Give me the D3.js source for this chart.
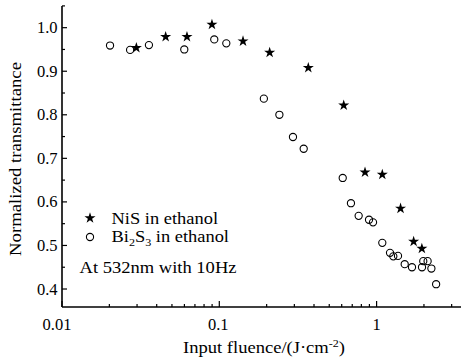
<!DOCTYPE html>
<html><head><meta charset="utf-8">
<script src="https://cdn.jsdelivr.net/npm/d3@7"></script>
<style>body{margin:0;background:#fff}svg{display:block}</style>
</head><body>
<svg id="c" width="461" height="361"></svg>
<script>
const nisX = [0.0297,0.0456,0.0623,0.0898,0.1415,0.209,0.368,0.618,0.844,1.087,1.42,1.72,1.94];
const nisY = [0.954,0.979,0.979,1.007,0.969,0.943,0.908,0.822,0.668,0.663,0.585,0.509,0.493];
const biX = [0.0202,0.0271,0.0357,0.0599,0.0929,0.1108,0.192,0.241,0.294,0.344,0.609,0.687,0.769,0.895,0.949,1.087,1.217,1.277,1.368,1.509,1.679,1.944,1.98,2.11,2.23,2.39];
const biY = [0.959,0.949,0.960,0.950,0.973,0.964,0.837,0.800,0.749,0.722,0.655,0.597,0.568,0.559,0.553,0.506,0.483,0.475,0.476,0.457,0.450,0.450,0.464,0.464,0.447,0.411];
const yTicks = [0.4,0.5,0.6,0.7,0.8,0.9,1.0];
const yMinor = [0.45,0.55,0.65,0.75,0.85,0.95,1.05];
const xTicks = [0.01,0.1,1];
const xTickLabels = ["0.01","0.1","1"];
const FF = "Liberation Serif";

const svg = d3.select("#c");
const x = d3.scaleLog().domain([0.01, 3.44]).range([62, 461]);
const y = d3.scaleLinear().domain([0.3587, 1.05]).range([307, 5.9]);
const T = (sel) => sel.append("text").attr("font-family", FF).attr("fill", "#000");

// axes lines
svg.append("line").attr("x1",62).attr("x2",62).attr("y1",y(1.05)).attr("y2",307).attr("stroke","#000").attr("stroke-width",1.6);
svg.append("line").attr("x1",62).attr("x2",461).attr("y1",307).attr("y2",307).attr("stroke","#000").attr("stroke-width",1.6);

// y ticks
yTicks.forEach(v=>{
  svg.append("line").attr("x1",62).attr("x2",67).attr("y1",y(v)).attr("y2",y(v)).attr("stroke","#000").attr("stroke-width",1.2);
  T(svg).attr("x",57.5).attr("y",y(v)+5.5).attr("text-anchor","end").attr("font-size",16.5).text(v.toFixed(1));
});
yMinor.forEach(v=>{
  svg.append("line").attr("x1",62).attr("x2",65).attr("y1",y(v)).attr("y2",y(v)).attr("stroke","#000").attr("stroke-width",1.2);
});
// x ticks
const minor = [];
[0.01,0.1,1].forEach(d=>{for(let k=2;k<=9;k++){const v=d*k; if(v<=3.44) minor.push(v);}});
minor.forEach(v=>{
  svg.append("line").attr("x1",x(v)).attr("x2",x(v)).attr("y1",307).attr("y2",304).attr("stroke","#000").attr("stroke-width",1.2);
});
xTicks.forEach((v,i)=>{
  svg.append("line").attr("x1",x(v)).attr("x2",x(v)).attr("y1",307).attr("y2",301).attr("stroke","#000").attr("stroke-width",1.2);
  T(svg).attr("x",x(v)-(i==0?5:i==1?1:0)).attr("y",329.5).attr("text-anchor","middle").attr("font-size",16.5).text(xTickLabels[i]);
});

// titles
T(svg).attr("transform","translate(20.5,159) rotate(-90)").attr("text-anchor","middle").attr("font-size",17)
  .attr("textLength",194).attr("lengthAdjust","spacingAndGlyphs").text("Normalized transmittance");
const xt = T(svg).attr("x",183).attr("y",353).attr("font-size",17)
  .attr("textLength",162).attr("lengthAdjust","spacingAndGlyphs");
xt.append("tspan").text("Input fluence/(J·cm");
xt.append("tspan").attr("dy",-6).attr("font-size",11).text("-2");
xt.append("tspan").attr("dy",6).text(")");

// data
const star = d3.symbol().type(d3.symbolStar).size(38);
svg.append("g").selectAll("path").data(nisX.map((v,i)=>[v,nisY[i]])).join("path")
  .attr("d",star).attr("transform",d=>`translate(${x(d[0])},${y(d[1])})`).attr("fill","#000");
svg.append("g").selectAll("circle").data(biX.map((v,i)=>[v,biY[i]])).join("circle")
  .attr("cx",d=>x(d[0])).attr("cy",d=>y(d[1])).attr("r",3.6).attr("fill","none").attr("stroke","#000").attr("stroke-width",1.1);

// legend
svg.append("path").attr("d",star).attr("transform","translate(90,218)").attr("fill","#000");
T(svg).attr("x",111.5).attr("y",223.5).attr("font-size",16)
  .attr("textLength",106.5).attr("lengthAdjust","spacingAndGlyphs").text("NiS in ethanol");
svg.append("circle").attr("cx",90).attr("cy",237).attr("r",3.6).attr("fill","none").attr("stroke","#000").attr("stroke-width",1.1);
const lt = T(svg).attr("x",111.5).attr("y",241.5).attr("font-size",16)
  .attr("textLength",117.5).attr("lengthAdjust","spacingAndGlyphs");
lt.append("tspan").text("Bi");
lt.append("tspan").attr("dy",4).attr("font-size",10.5).text("2");
lt.append("tspan").attr("dy",-4).text("S");
lt.append("tspan").attr("dy",4).attr("font-size",10.5).text("3");
lt.append("tspan").attr("dy",-4).text(" in ethanol");
T(svg).attr("x",79.5).attr("y",273).attr("font-size",17)
  .attr("textLength",157).attr("lengthAdjust","spacingAndGlyphs").text("At 532nm with 10Hz");
</script>
</body></html>
